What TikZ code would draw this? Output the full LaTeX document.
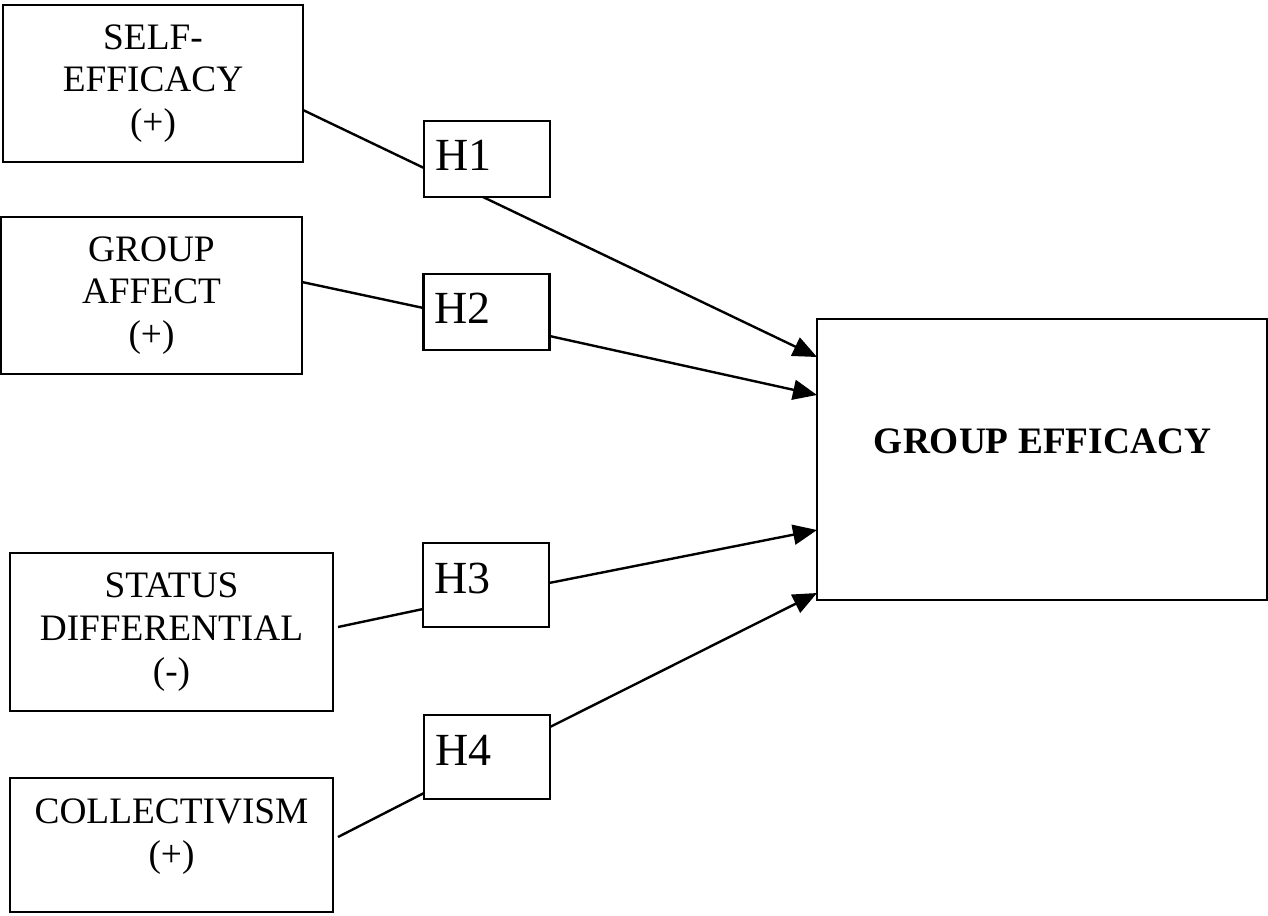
\documentclass[tikz,border=0pt]{standalone}
\usepackage{fontspec}
\setmainfont{Liberation Serif}
\usetikzlibrary{calc,arrows.meta}
\begin{document}
\begin{tikzpicture}[x=0.75pt,y=-0.75pt,
  box/.style={draw,line width=1.8pt,inner sep=0pt,outer sep=0pt,align=center,font=\fontsize{28}{32}\selectfont},
  hbox/.style={draw,line width=1.8pt,inner sep=0pt,outer sep=0pt,minimum width=94.5pt},
  htext/.style={inner sep=0pt,font=\fontsize{34.5}{40}\selectfont},
  btext/.style={inner sep=0pt,align=center,font=\fontsize{28}{32}\selectfont},
  conn/.style={line width=1.8pt},
  arr/.style={conn,-{Triangle[length=18pt,width=15pt]}}]
\useasboundingbox (0,0) rectangle (1268,915);
% left boxes
\node[box,minimum width=225pt,minimum height=117.75pt] (se) at (153,83.5) {SELF-\\EFFICACY\\(+)};
\node[box,minimum width=225.75pt,minimum height=117.75pt] (ga) at (151.5,295.5) {GROUP\\AFFECT\\(+)};
\node[box,minimum width=242.25pt,minimum height=118.5pt] (sd) at (171.5,632) {STATUS\\DIFFERENTIAL\\(-)};
\node[box,minimum width=242.25pt,minimum height=100.5pt] (co) at (171.5,845) {};
\node[btext,anchor=north] (cot) at (171.5,798.5) {COLLECTIVISM\\(+)};
% target
\node[box,minimum width=337.5pt,minimum height=210.75pt] (ge) at (1042,459.5) {};
\node[btext,anchor=base,font=\fontsize{28}{32}\selectfont\bfseries] (get) at (1042.5,453) {GROUP EFFICACY};
% hypothesis boxes
\node[hbox,minimum height=57pt] (h1) at (487,159) {};
\node[htext,anchor=base west] (h1t) at ($(h1.north west)+(11,49)$) {H1};
\node[hbox,minimum height=57pt] (h2) at (486.5,312) {};
\node[htext,anchor=base west] (h2t) at ($(h2.north west)+(11,49)$) {H2};
\node[hbox,minimum height=63pt] (h3) at (486,585) {};
\node[htext,anchor=base west] (h3t) at ($(h3.north west)+(11,50)$) {H3};
\node[hbox,minimum height=63pt] (h4) at (487,757) {};
\node[htext,anchor=base west] (h4t) at ($(h4.north west)+(11,50)$) {H4};
% connectors
\draw[conn] ($(se.north east)+(0,105)$) -- ($(h1.north west)+(0,47)$);
\draw[arr] ($(h1.south)+(-4,0)$) -- ($(ge.north west)+(0,38)$);
\draw[conn] ($(ga.north east)+(0,65)$) -- ($(h2.north west)+(0,34)$);
\draw[arr] ($(h2.north east)+(0,62)$) -- ($(ge.north west)+(0,76)$);
\draw[conn] ($(sd.north east)+(5,74)$) -- ($(h3.north west)+(0,66)$);
\draw[arr] ($(h3.north east)+(0,40)$) -- ($(ge.north west)+(0,211)$);
\draw[conn] ($(co.north east)+(5,59)$) -- ($(h4.north west)+(0,78)$);
\draw[arr] ($(h4.north east)+(0,12)$) -- ($(ge.north west)+(0,274)$);
\end{tikzpicture}
\end{document}
